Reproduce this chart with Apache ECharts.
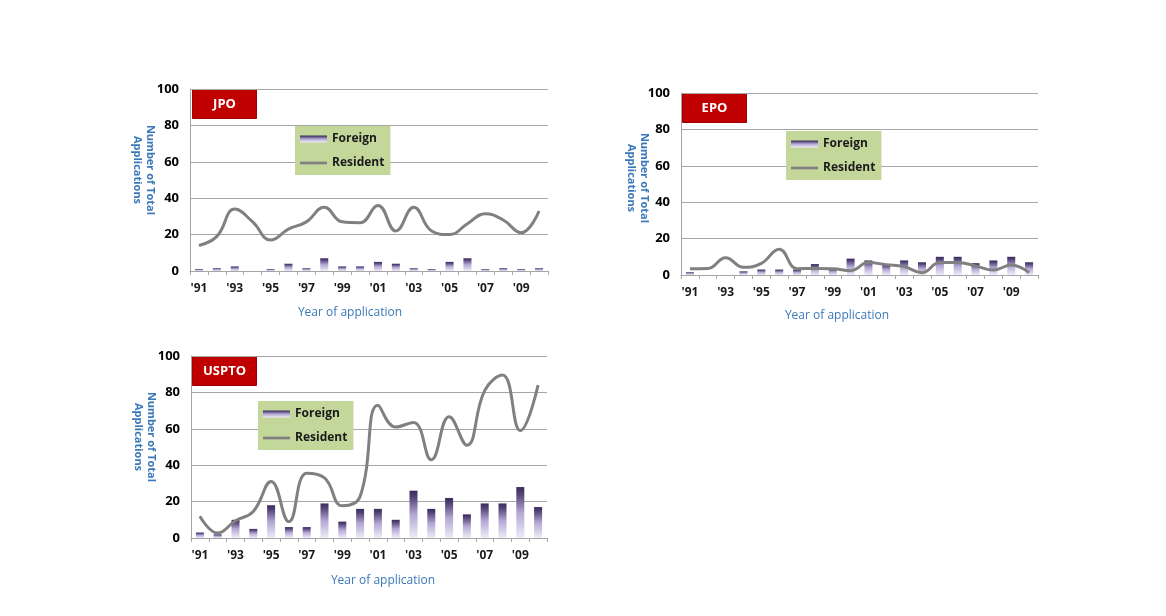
<!DOCTYPE html>
<html>
<head>
<meta charset="utf-8">
<script src="https://cdn.jsdelivr.net/npm/echarts@6/dist/echarts.min.js"></script>
<style>
html,body{margin:0;padding:0;background:#fff;}
#chart{width:1166px;height:616px;}
</style>
</head>
<body>
<div id="chart"></div>
<script>
const years = ["'91","'92","'93","'94","'95","'96","'97","'98","'99","'00","'01","'02","'03","'04","'05","'06","'07","'08","'09","'10"];
const yTicks = [0, 20, 40, 60, 80, 100];

const jpoForeign  = [1, 1.5, 2.5, 0, 1, 4, 1.5, 7, 2.5, 2.5, 5, 4, 1.5, 1, 5, 7, 1, 1.5, 1, 1.5];
const jpoResident = [14, 19, 34, 27, 17, 23, 27, 35, 27, 26.5, 36, 22, 35, 22, 20, 26, 31.5, 28, 21, 33];

const epoForeign  = [1.5, 0, 0, 2, 3, 3, 3, 6, 3.5, 9, 8, 6, 8, 7, 10, 10, 6.5, 8, 10, 7];
const epoResident = [3.5, 3.6, 9.5, 4.2, 6.4, 14.2, 3.5, 3.6, 3.5, 2.4, 6.8, 5.7, 4.6, 1.3, 6.8, 6.8, 5, 2.7, 5.5, 1.3];

const usForeign  = [3, 2, 10, 5, 18, 6, 6, 19, 9, 16, 16, 10, 26, 16, 22, 13, 19, 19, 28, 17];
const usResident = [12, 2.7, 9.5, 14.6, 31, 9, 35.6, 33, 17.7, 22.8, 73, 61, 63.5, 43, 66.6, 51, 81, 89.5, 59, 84];

const panels = [
  {label: 'JPO',   foreign: jpoForeign, resident: jpoResident, grid: {left: 190, top: 89, width: 358, height: 182},
   legend: {left: 295, top: 126}, yName: {x: 144, y: 170}, xName: {x: 350, y: 313}, box: {x: 192, y: 89}},
  {label: 'EPO',   foreign: epoForeign, resident: epoResident, grid: {left: 681, top: 93, width: 357, height: 182},
   legend: {left: 786, top: 131}, yName: {x: 638, y: 178}, xName: {x: 837, y: 316}, box: {x: 682, y: 93}},
  {label: 'USPTO', foreign: usForeign, resident: usResident, grid: {left: 191, top: 356, width: 356, height: 182},
   legend: {left: 258, top: 401}, yName: {x: 145, y: 437}, xName: {x: 383, y: 581}, box: {x: 192, y: 356}}
];

const FONT = '"Open Sans", "Liberation Sans", sans-serif';
const barGradient = new echarts.graphic.LinearGradient(0, 0, 0, 1, [
  {offset: 0, color: '#3b2c5a'},
  {offset: 0.12, color: '#4e3f74'},
  {offset: 0.5, color: '#b3a7d3'},
  {offset: 1, color: '#f0ecf9'}
]);

const option = {
  backgroundColor: '#ffffff',
  animation: false,
  grid: [], xAxis: [], yAxis: [], series: [], legend: [], graphic: []
};

panels.forEach((p, i) => {
  option.grid.push(Object.assign({containLabel: false}, p.grid));
  option.xAxis.push({
    type: 'category', gridIndex: i, data: years, boundaryGap: true,
    axisLine: {lineStyle: {color: '#a6a6a6', width: 1}},
    axisTick: {show: true, interval: 0, length: 4, lineStyle: {color: '#a6a6a6'}},
    axisLabel: {interval: 1, margin: 12, color: '#1a1a1a', fontWeight: 'bold', fontSize: 12, fontFamily: FONT},
    splitLine: {show: false}
  });
  option.yAxis.push({
    type: 'value', gridIndex: i, min: yTicks[0], max: yTicks[yTicks.length - 1], interval: 20,
    axisLine: {show: true, lineStyle: {color: '#a6a6a6', width: 1}},
    axisTick: {show: false},
    axisLabel: {margin: 11, color: '#000', fontWeight: 'bold', fontSize: 13, fontFamily: FONT},
    splitLine: {lineStyle: {color: '#a6a6a6', width: 1}}
  });
  option.series.push({
    name: 'Foreign', type: 'bar', xAxisIndex: i, yAxisIndex: i, data: p.foreign,
    barWidth: '45%', itemStyle: {color: barGradient}, z: 2
  });
  option.series.push({
    name: 'Resident', type: 'line', xAxisIndex: i, yAxisIndex: i, data: p.resident,
    smooth: 0.45, showSymbol: false, symbol: 'none',
    lineStyle: {color: '#808080', width: 3}, itemStyle: {color: '#808080'}, z: 3
  });
  option.legend.push({
    left: p.legend.left, top: p.legend.top, orient: 'vertical',
    backgroundColor: '#c4d79b', borderWidth: 0, padding: [5, 6, 4, 5],
    itemWidth: 27, itemHeight: 7, itemGap: 8, selectedMode: false,
    textStyle: {color: '#1a1a1a', fontWeight: 'bold', fontSize: 12, fontFamily: FONT, lineHeight: 16},
    data: [
      {name: 'Foreign', icon: 'rect', itemStyle: {color: barGradient}},
      {name: 'Resident', icon: 'path://M0,0H30V3H0Z', itemStyle: {color: '#808080'}}
    ]
  });
  option.graphic.push({
    type: 'group', left: p.box.x, top: p.box.y, z: 10,
    children: [
      {type: 'rect', shape: {x: 0, y: 0, width: 64, height: 29}, style: {fill: '#c00000', stroke: '#a00000', lineWidth: 1}},
      {type: 'text', x: 32, y: 15, style: {text: p.label, fill: '#ffffff', font: 'bold 13px ' + FONT, align: 'center', verticalAlign: 'middle'}}
    ]
  });
  option.graphic.push({
    type: 'text', x: p.yName.x, y: p.yName.y, rotation: -Math.PI / 2, z: 10,
    style: {text: 'Number of Total\nApplications', fill: '#3b78b8', font: 'bold 11px ' + FONT, align: 'center', verticalAlign: 'middle', lineHeight: 13}
  });
  option.graphic.push({
    type: 'text', x: p.xName.x, y: p.xName.y, z: 10,
    style: {text: 'Year of application', fill: '#3b78b8', font: '12px ' + FONT, align: 'center', verticalAlign: 'middle'}
  });
});

const chart = echarts.init(document.getElementById('chart'), null, {renderer: 'canvas'});
chart.setOption(option);
</script>
</body>
</html>
